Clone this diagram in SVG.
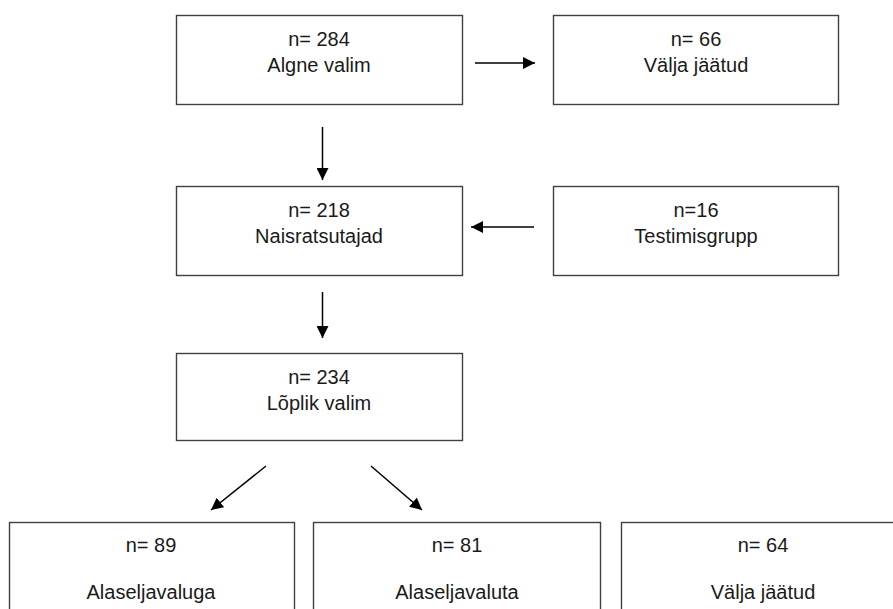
<svg xmlns="http://www.w3.org/2000/svg" width="893" height="609" viewBox="0 0 893 609">
<defs>
<marker id="ah" viewBox="0 0 10 10" refX="10" refY="5" markerWidth="12" markerHeight="12" markerUnits="userSpaceOnUse" orient="auto">
<path d="M0,0 L10,5 L0,10 z" fill="#000"/>
</marker>
<style>
.box{fill:#fff;stroke:#404040;stroke-width:1.4}
.t{font-family:"Liberation Sans",Arial,sans-serif;font-size:20px;fill:#1a1a1a;text-anchor:middle}
.c{stroke:#000;stroke-width:1.5;fill:none;marker-end:url(#ah)}
</style>
</defs>
<rect width="893" height="609" fill="#fff"/>
<g id="n284">
<rect class="box" x="176.5" y="15.5" width="286" height="89"/>
<text class="t" x="319" y="46">n= 284</text>
<text class="t" x="319" y="72">Algne valim</text>
</g>
<g id="n66">
<rect class="box" x="553.5" y="15.5" width="285" height="89"/>
<text class="t" x="696" y="46">n= 66</text>
<text class="t" x="696" y="72">Välja jäätud</text>
</g>
<g id="n218">
<rect class="box" x="176.5" y="186.5" width="286" height="89"/>
<text class="t" x="319" y="217">n= 218</text>
<text class="t" x="319" y="243">Naisratsutajad</text>
</g>
<g id="n16">
<rect class="box" x="553.5" y="186.5" width="285" height="89"/>
<text class="t" x="696" y="217">n=16</text>
<text class="t" x="696" y="243">Testimisgrupp</text>
</g>
<g id="n234">
<rect class="box" x="176.5" y="353.5" width="286" height="87"/>
<text class="t" x="319" y="384">n= 234</text>
<text class="t" x="319" y="410">Lõplik valim</text>
</g>
<g id="n89">
<rect class="box" x="9.5" y="522.5" width="285" height="100"/>
<text class="t" x="151" y="552">n= 89</text>
<text class="t" x="151" y="599">Alaseljavaluga</text>
</g>
<g id="n81">
<rect class="box" x="313.5" y="522.5" width="287" height="100"/>
<text class="t" x="457" y="552">n= 81</text>
<text class="t" x="457" y="599">Alaseljavaluta</text>
</g>
<g id="n64">
<rect class="box" x="621.5" y="522.5" width="285" height="100"/>
<text class="t" x="763" y="552">n= 64</text>
<text class="t" x="763" y="599">Välja jäätud</text>
</g>
<g id="connectors">
<line class="c" x1="475" y1="63" x2="535" y2="63"/>
<line class="c" x1="322.5" y1="127" x2="322.5" y2="180"/>
<line class="c" x1="534" y1="227" x2="471" y2="227"/>
<line class="c" x1="322.5" y1="292" x2="322.5" y2="338"/>
<line class="c" x1="266" y1="466" x2="211" y2="510"/>
<line class="c" x1="371" y1="466" x2="422" y2="510"/>
</g>
</svg>
